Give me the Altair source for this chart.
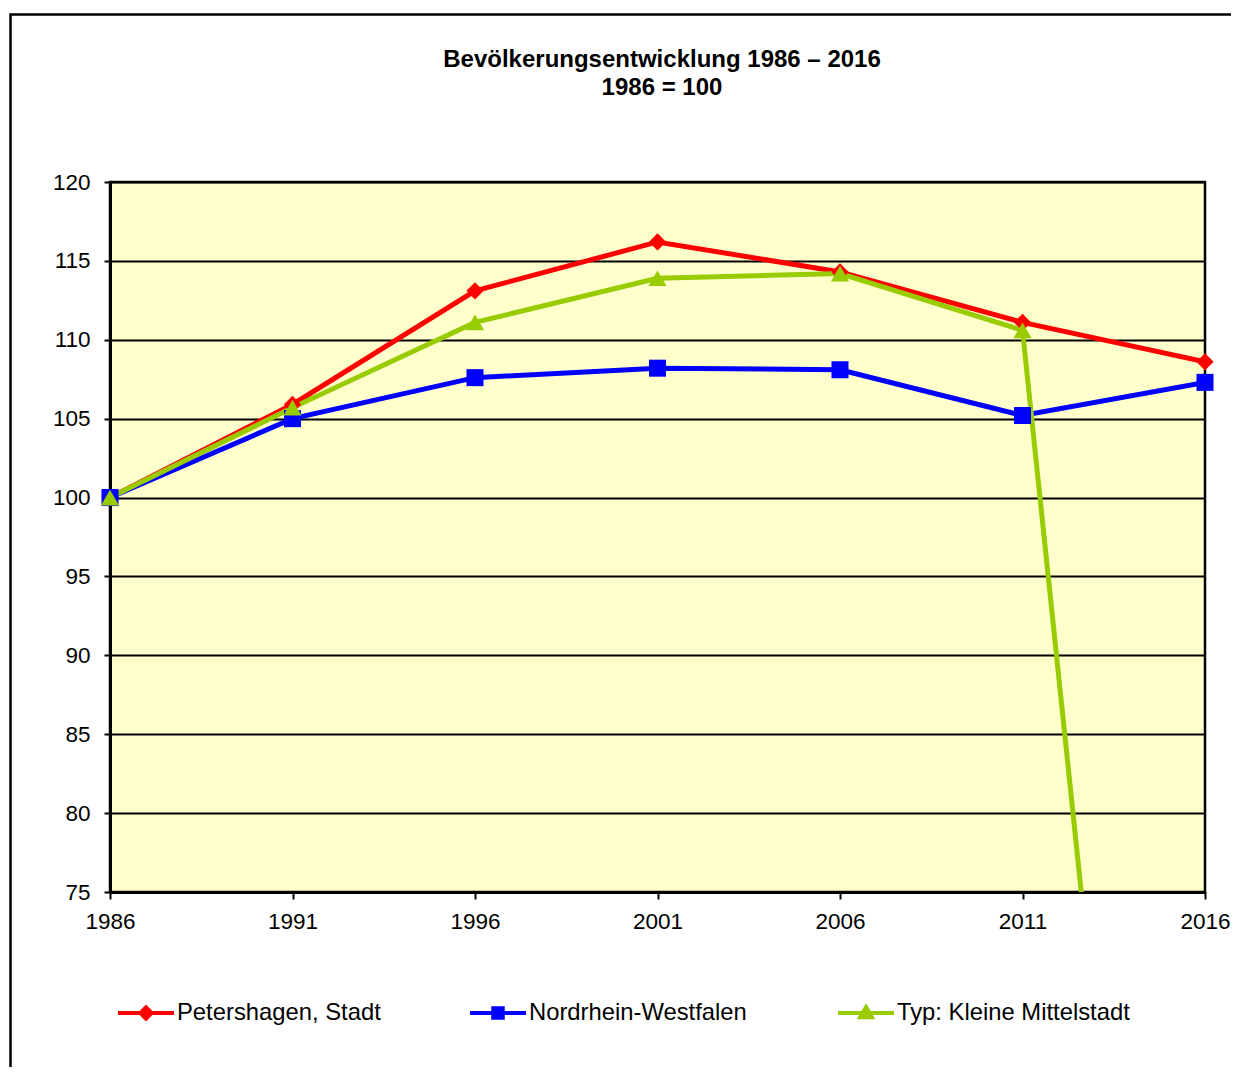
import altair as alt
import pandas as pd

# ---- data ----
years = [1986, 1991, 1996, 2001, 2006, 2011, 2016]
petershagen = [100.0, 105.9, 113.1, 116.2, 114.3, 111.1, 108.6]
nordrhein_westfalen = [100.0, 105.0, 107.6, 108.2, 108.1, 105.2, 107.3]
kleine_mittelstadt = [100.0, 105.7, 111.1, 113.9, 114.2, 110.6, 0.0]

series_names = ["Petershagen, Stadt", "Nordrhein-Westfalen", "Typ: Kleine Mittelstadt"]
series_colors = ["#FF0000", "#0000FF", "#99CC00"]
series_shapes = ["diamond", "square", "triangle-up"]
series_sizes = [300, 290, 330]
legend_symbols = [
    "M-1,0H1M0,-0.2L0.2,0L0,0.2L-0.2,0Z",
    "M-1,0H1M-0.17,-0.17H0.17V0.17H-0.17Z",
    "M-1,0H1M0,-0.21L0.21,0.15H-0.21Z",
]
legend_x = [6, 358, 726]
y_ticks = [75, 80, 85, 90, 95, 100, 105, 110, 115, 120]
title_lines = ["Bevölkerungsentwicklung 1986 – 2016", "1986 = 100"]

rows = []
for name, vals in zip(series_names, [petershagen, nordrhein_westfalen, kleine_mittelstadt]):
    for yr, v in zip(years, vals):
        rows.append({"Jahr": yr, "Wert": v, "Reihe": name})
df = pd.DataFrame(rows)

FONT = "Liberation Sans"
W, H = 1095, 710
PAD_L, PAD_T, PAD_R, PAD_B = 102, 174, 26, 175

x_enc = alt.X(
    "Jahr:Q",
    scale=alt.Scale(domain=[years[0], years[-1]], nice=False, zero=False),
    axis=alt.Axis(
        values=years, format="d", title=None, grid=False, labelFlush=False,
        labelOverlap=False, tickSize=7, labelPadding=11, domainWidth=3,
    ),
)
y_enc = alt.Y(
    "Wert:Q",
    scale=alt.Scale(domain=[75, 120], nice=False, zero=False),
    axis=alt.Axis(
        values=y_ticks, title=None, grid=True, tickSize=6, labelPadding=14,
        domainWidth=3, labelOverlap=False,
    ),
)

lines = alt.Chart(df).mark_line(strokeWidth=5, clip=True).encode(
    x=x_enc, y=y_enc,
    color=alt.Color("Reihe:N", scale=alt.Scale(domain=series_names, range=series_colors), legend=None),
    detail="Reihe:N",
)

point_layers = []
for name, col, shp, sz, sym, lx in zip(series_names, series_colors, series_shapes,
                                        series_sizes, legend_symbols, legend_x):
    leg = alt.Legend(
        title=None, orient="none", legendX=lx, legendY=801,
        symbolType=sym, symbolSize=3136, symbolStrokeWidth=4, symbolStrokeColor=col,
        symbolOpacity=1, labelFont=FONT, labelFontSize=23.8, labelColor="black",
        labelOffset=1, labelLimit=500, padding=0,
    )
    point_layers.append(
        alt.Chart(df).transform_filter(alt.datum.Reihe == name).mark_point(
            filled=True, opacity=1, shape=shp, size=sz
        ).encode(
            x="Jahr:Q", y="Wert:Q",
            color=alt.Color("Reihe:N", scale=alt.Scale(domain=[name], range=[col]), legend=leg),
        )
    )

one = pd.DataFrame({"f": [0]})
frame = alt.Chart(one).mark_rect(
    fillOpacity=0, stroke="black", strokeWidth=2.5
).encode(
    x=alt.value(-99.5), x2=alt.value(1160), y=alt.value(-167.5), y2=alt.value(920),
)

title1 = alt.Chart(one).mark_text(
    text=title_lines[0], font=FONT, fontSize=24, fontWeight="bold", color="black",
    align="center", baseline="alphabetic",
).encode(x=alt.value(552), y=alt.value(-115.5))
title2 = alt.Chart(one).mark_text(
    text=title_lines[1], font=FONT, fontSize=24, fontWeight="bold", color="black",
    align="center", baseline="alphabetic",
).encode(x=alt.value(552), y=alt.value(-87.5))

chart = alt.layer(frame, title1, title2, lines, *point_layers).resolve_scale(
    color="independent"
).resolve_legend(color="independent").properties(
    width=W, height=H,
    padding={"left": PAD_L, "top": PAD_T, "right": PAD_R, "bottom": PAD_B},
    autosize=alt.AutoSizeParams(type="none"),
    background="white",
).configure_view(
    fill="#FFFFCC", stroke="black", strokeWidth=2.5,
).configure_axis(
    labelFont=FONT, labelFontSize=22.5, labelColor="black",
    tickColor="black", tickWidth=2, domainColor="black",
    gridColor="black", gridWidth=2, gridOpacity=1,
)

chart.save("out.html", embed_options={"renderer": "svg", "actions": False})
